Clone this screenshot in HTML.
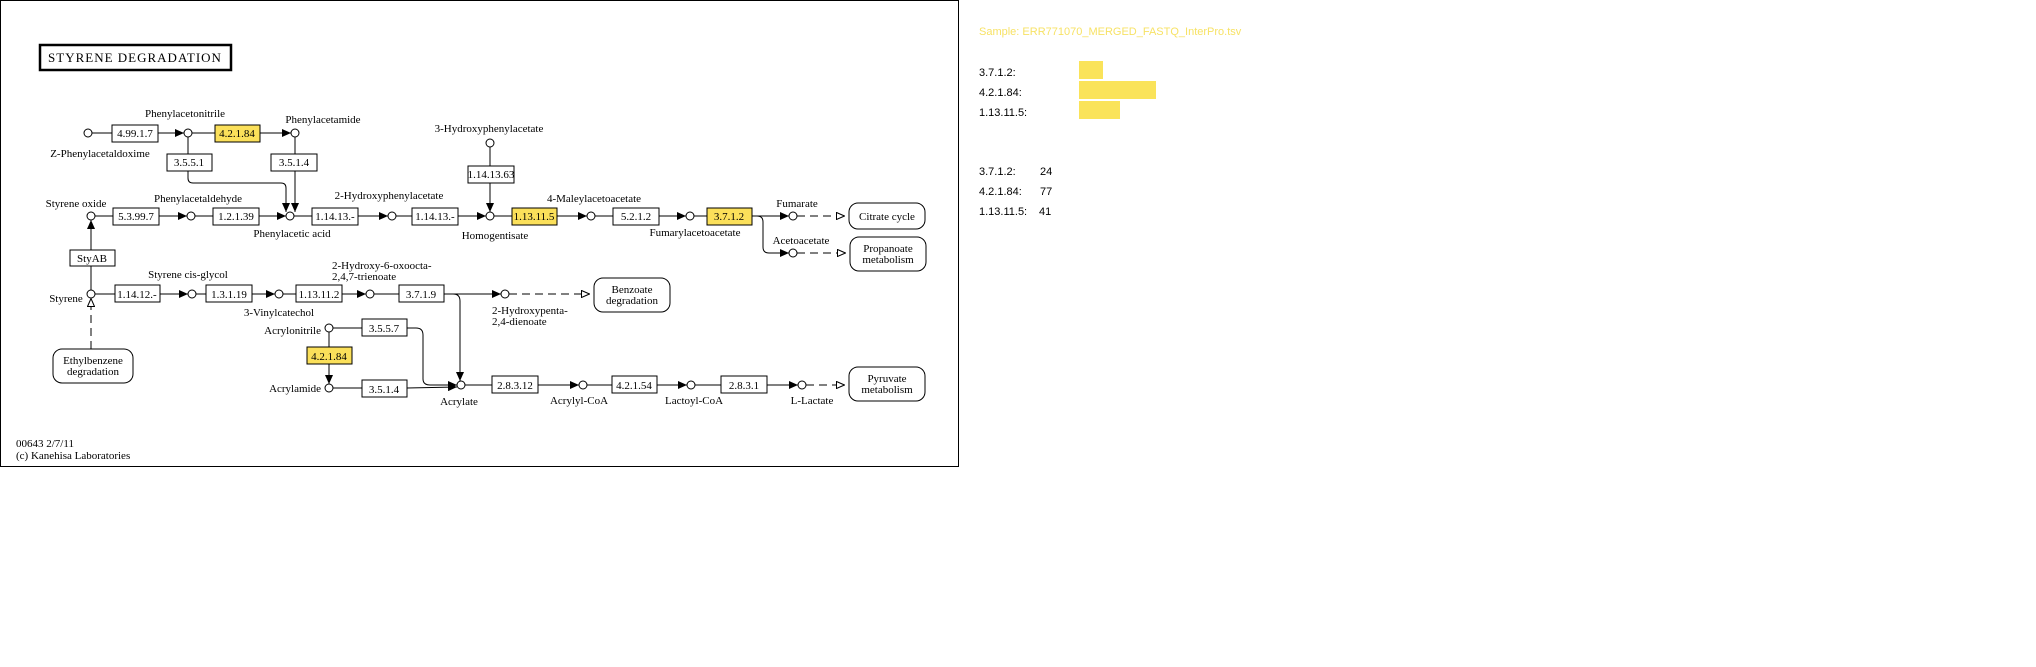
<!DOCTYPE html>
<html><head><meta charset="utf-8"><style>
html,body{margin:0;padding:0;background:#fff;width:2036px;height:667px;overflow:hidden}
svg{position:absolute;left:0;top:0}
.t{font-family:"Liberation Serif",serif;font-size:11px;fill:#000}
.s{font-family:"Liberation Sans",sans-serif;font-size:11px;fill:#000}
</style></head><body>
<svg width="2036" height="667" viewBox="0 0 2036 667">
<defs>
<marker id="a" markerWidth="9" markerHeight="8" refX="9" refY="4" orient="auto" markerUnits="userSpaceOnUse"><path d="M0,0L9,4L0,8z" fill="#000"/></marker>
<marker id="h" markerWidth="9" markerHeight="8" refX="9" refY="4" orient="auto" markerUnits="userSpaceOnUse"><path d="M0.5,0.5L8.5,4L0.5,7.5z" fill="#fff" stroke="#000" stroke-width="1"/></marker>
</defs>
<rect x="0.5" y="0.5" width="958" height="466" fill="#fff" stroke="#000" stroke-width="1"/>
<rect x="40" y="45" width="191" height="25" fill="#fff" stroke="#000" stroke-width="2.5"/>
<text class="t" x="135" y="62" text-anchor="middle" style="font-size:13px;letter-spacing:1px">STYRENE DEGRADATION</text>

<g stroke="#000" stroke-width="1" fill="none">
<!-- row1 -->
<line x1="92" y1="133" x2="112" y2="133"/>
<line x1="158" y1="133" x2="184" y2="133" marker-end="url(#a)"/>
<line x1="192" y1="133" x2="215" y2="133"/>
<line x1="260" y1="133" x2="291" y2="133" marker-end="url(#a)"/>
<line x1="188" y1="137" x2="188" y2="154"/>
<path d="M188,171 V178 Q188,183 193,183 H281 Q286,183 286,188 V212" marker-end="url(#a)"/>
<line x1="295" y1="137" x2="295" y2="154"/>
<line x1="295" y1="171" x2="295" y2="212" marker-end="url(#a)"/>
<!-- row2 -->
<line x1="95" y1="216" x2="113" y2="216"/>
<line x1="159" y1="216" x2="187" y2="216" marker-end="url(#a)"/>
<line x1="195" y1="216" x2="213" y2="216"/>
<line x1="259" y1="216" x2="286" y2="216" marker-end="url(#a)"/>
<line x1="294" y1="216" x2="312" y2="216"/>
<line x1="358" y1="216" x2="388" y2="216" marker-end="url(#a)"/>
<line x1="396" y1="216" x2="412" y2="216"/>
<line x1="458" y1="216" x2="486" y2="216" marker-end="url(#a)"/>
<line x1="494" y1="216" x2="512" y2="216"/>
<line x1="557" y1="216" x2="587" y2="216" marker-end="url(#a)"/>
<line x1="595" y1="216" x2="613" y2="216"/>
<line x1="659" y1="216" x2="686" y2="216" marker-end="url(#a)"/>
<line x1="694" y1="216" x2="707" y2="216"/>
<line x1="752" y1="216" x2="789" y2="216" marker-end="url(#a)"/>
<path d="M752,216 H757 Q763,216 763,222 V247 Q763,253 769,253 H789" marker-end="url(#a)"/>
<line x1="797" y1="216" x2="845" y2="216" stroke-dasharray="8,5" marker-end="url(#h)"/>
<line x1="797" y1="253" x2="846" y2="253" stroke-dasharray="8,5" marker-end="url(#h)"/>
<line x1="490" y1="147" x2="490" y2="166"/>
<line x1="490" y1="183" x2="490" y2="212" marker-end="url(#a)"/>
<!-- styrene vertical -->
<line x1="91" y1="290" x2="91" y2="220" marker-end="url(#a)"/>
<line x1="91" y1="349" x2="91" y2="298" stroke-dasharray="8,5" marker-end="url(#h)"/>
<!-- row3 -->
<line x1="95" y1="294" x2="115" y2="294"/>
<line x1="160" y1="294" x2="188" y2="294" marker-end="url(#a)"/>
<line x1="196" y1="294" x2="206" y2="294"/>
<line x1="252" y1="294" x2="275" y2="294" marker-end="url(#a)"/>
<line x1="283" y1="294" x2="296" y2="294"/>
<line x1="342" y1="294" x2="366" y2="294" marker-end="url(#a)"/>
<line x1="374" y1="294" x2="399" y2="294"/>
<line x1="444" y1="294" x2="501" y2="294" marker-end="url(#a)"/>
<line x1="509" y1="294" x2="590" y2="294" stroke-dasharray="8,5" marker-end="url(#h)"/>
<path d="M444,294 H453 Q460,294 460,301 V381" marker-end="url(#a)"/>
<!-- row4 -->
<line x1="333" y1="328" x2="362" y2="328"/>
<path d="M407,328 H416 Q423,328 423,335 V379 Q423,385 430,385 H457" marker-end="url(#a)"/>
<line x1="329" y1="332" x2="329" y2="347"/>
<line x1="329" y1="364" x2="329" y2="384" marker-end="url(#a)"/>
<line x1="333" y1="388" x2="362" y2="388"/>
<line x1="407" y1="388" x2="457" y2="387" marker-end="url(#a)"/>
<line x1="465" y1="385" x2="492" y2="385"/>
<line x1="538" y1="385" x2="579" y2="385" marker-end="url(#a)"/>
<line x1="587" y1="385" x2="612" y2="385"/>
<line x1="657" y1="385" x2="687" y2="385" marker-end="url(#a)"/>
<line x1="695" y1="385" x2="721" y2="385"/>
<line x1="767" y1="385" x2="798" y2="385" marker-end="url(#a)"/>
<line x1="806" y1="385" x2="845" y2="385" stroke-dasharray="8,5" marker-end="url(#h)"/>
</g>

<!-- circles -->
<g fill="#fff" stroke="#000" stroke-width="1">
<circle cx="88" cy="133" r="4"/><circle cx="188" cy="133" r="4"/><circle cx="295" cy="133" r="4"/>
<circle cx="91" cy="216" r="4"/><circle cx="191" cy="216" r="4"/><circle cx="290" cy="216" r="4"/>
<circle cx="392" cy="216" r="4"/><circle cx="490" cy="216" r="4"/><circle cx="591" cy="216" r="4"/>
<circle cx="690" cy="216" r="4"/><circle cx="793" cy="216" r="4"/><circle cx="793" cy="253" r="4"/>
<circle cx="490" cy="143" r="4"/>
<circle cx="91" cy="294" r="4"/><circle cx="192" cy="294" r="4"/><circle cx="279" cy="294" r="4"/>
<circle cx="370" cy="294" r="4"/><circle cx="505" cy="294" r="4"/>
<circle cx="329" cy="328" r="4"/><circle cx="329" cy="388" r="4"/>
<circle cx="461" cy="385" r="4"/><circle cx="583" cy="385" r="4"/><circle cx="691" cy="385" r="4"/><circle cx="802" cy="385" r="4"/>
</g>

<!-- boxes -->
<g stroke="#000" stroke-width="1">
<rect x="112" y="125" width="46" height="17" fill="#fff"/>
<rect x="215" y="125" width="45" height="17" fill="#fbe05a"/>
<rect x="167" y="154" width="45" height="17" fill="#fff"/>
<rect x="271" y="154" width="46" height="17" fill="#fff"/>
<rect x="113" y="208" width="46" height="17" fill="#fff"/>
<rect x="213" y="208" width="46" height="17" fill="#fff"/>
<rect x="312" y="208" width="46" height="17" fill="#fff"/>
<rect x="412" y="208" width="46" height="17" fill="#fff"/>
<rect x="512" y="208" width="45" height="17" fill="#fbe05a"/>
<rect x="613" y="208" width="46" height="17" fill="#fff"/>
<rect x="707" y="208" width="45" height="17" fill="#fbe05a"/>
<rect x="468" y="166" width="46" height="17" fill="#fff"/>
<rect x="70" y="250" width="45" height="16" fill="#fff"/>
<rect x="115" y="285" width="45" height="17" fill="#fff"/>
<rect x="206" y="285" width="46" height="17" fill="#fff"/>
<rect x="296" y="285" width="46" height="17" fill="#fff"/>
<rect x="399" y="285" width="45" height="17" fill="#fff"/>
<rect x="362" y="319" width="45" height="17" fill="#fff"/>
<rect x="307" y="347" width="45" height="17" fill="#fbe05a"/>
<rect x="362" y="380" width="45" height="17" fill="#fff"/>
<rect x="492" y="376" width="46" height="17" fill="#fff"/>
<rect x="612" y="376" width="45" height="17" fill="#fff"/>
<rect x="721" y="376" width="46" height="17" fill="#fff"/>
<rect x="849" y="203" width="76" height="26" rx="9" fill="#fff"/>
<rect x="850" y="237" width="76" height="34" rx="9" fill="#fff"/>
<rect x="594" y="278" width="76" height="34" rx="9" fill="#fff"/>
<rect x="849" y="367" width="76" height="34" rx="9" fill="#fff"/>
<rect x="53" y="349" width="80" height="34" rx="9" fill="#fff"/>
</g>

<g class="t" text-anchor="middle">
<text x="135" y="137">4.99.1.7</text>
<text x="237" y="137">4.2.1.84</text>
<text x="189" y="166">3.5.5.1</text>
<text x="294" y="166">3.5.1.4</text>
<text x="136" y="220">5.3.99.7</text>
<text x="236" y="220">1.2.1.39</text>
<text x="335" y="220">1.14.13.-</text>
<text x="435" y="220">1.14.13.-</text>
<text x="534" y="220">1.13.11.5</text>
<text x="636" y="220">5.2.1.2</text>
<text x="729" y="220">3.7.1.2</text>
<text x="491" y="178">1.14.13.63</text>
<text x="92" y="262">StyAB</text>
<text x="137" y="298">1.14.12.-</text>
<text x="229" y="298">1.3.1.19</text>
<text x="319" y="298">1.13.11.2</text>
<text x="421" y="298">3.7.1.9</text>
<text x="384" y="332">3.5.5.7</text>
<text x="329" y="360">4.2.1.84</text>
<text x="384" y="393">3.5.1.4</text>
<text x="515" y="389">2.8.3.12</text>
<text x="634" y="389">4.2.1.54</text>
<text x="744" y="389">2.8.3.1</text>
<text x="887" y="220">Citrate cycle</text>
<text x="888" y="252">Propanoate</text><text x="888" y="263">metabolism</text>
<text x="632" y="293">Benzoate</text><text x="632" y="304">degradation</text>
<text x="887" y="382">Pyruvate</text><text x="887" y="393">metabolism</text>
<text x="93" y="364">Ethylbenzene</text><text x="93" y="375">degradation</text>
<text x="185" y="117">Phenylacetonitrile</text>
<text x="323" y="123">Phenylacetamide</text>
<text x="100" y="157">Z-Phenylacetaldoxime</text>
<text x="489" y="132">3-Hydroxyphenylacetate</text>
<text x="76" y="207">Styrene oxide</text>
<text x="198" y="202">Phenylacetaldehyde</text>
<text x="292" y="237">Phenylacetic acid</text>
<text x="389" y="199">2-Hydroxyphenylacetate</text>
<text x="495" y="239">Homogentisate</text>
<text x="594" y="202">4-Maleylacetoacetate</text>
<text x="695" y="236">Fumarylacetoacetate</text>
<text x="797" y="207">Fumarate</text>
<text x="801" y="244">Acetoacetate</text>
<text x="188" y="278">Styrene cis-glycol</text>
<text x="279" y="316">3-Vinylcatechol</text>
<text x="459" y="405">Acrylate</text>
<text x="579" y="404">Acrylyl-CoA</text>
<text x="694" y="404">Lactoyl-CoA</text>
<text x="812" y="404">L-Lactate</text>
</g>
<g class="t">
<text x="66" y="302" text-anchor="middle">Styrene</text>
<text x="332" y="269">2-Hydroxy-6-oxoocta-</text><text x="332" y="280">2,4,7-trienoate</text>
<text x="492" y="314">2-Hydroxypenta-</text><text x="492" y="325">2,4-dienoate</text>
<text x="321" y="334" text-anchor="end">Acrylonitrile</text>
<text x="321" y="392" text-anchor="end">Acrylamide</text>
<text x="16" y="447">00643 2/7/11</text>
<text x="16" y="459">(c) Kanehisa Laboratories</text>
</g>

<!-- right panel -->
<text class="s" x="979" y="35" style="fill:#f7e265">Sample: ERR771070_MERGED_FASTQ_InterPro.tsv</text>
<g class="s">
<text x="979" y="76">3.7.1.2:</text>
<text x="979" y="96">4.2.1.84:</text>
<text x="979" y="116">1.13.11.5:</text>
<text x="979" y="175">3.7.1.2:</text><text x="1040" y="175">24</text>
<text x="979" y="195">4.2.1.84:</text><text x="1040" y="195">77</text>
<text x="979" y="215">1.13.11.5:</text><text x="1039" y="215">41</text>
</g>
<rect x="1079" y="61" width="24" height="18" fill="#fae35a"/>
<rect x="1079" y="81" width="77" height="18" fill="#fae35a"/>
<rect x="1079" y="101" width="41" height="18" fill="#fae35a"/>
</svg>
</body></html>
